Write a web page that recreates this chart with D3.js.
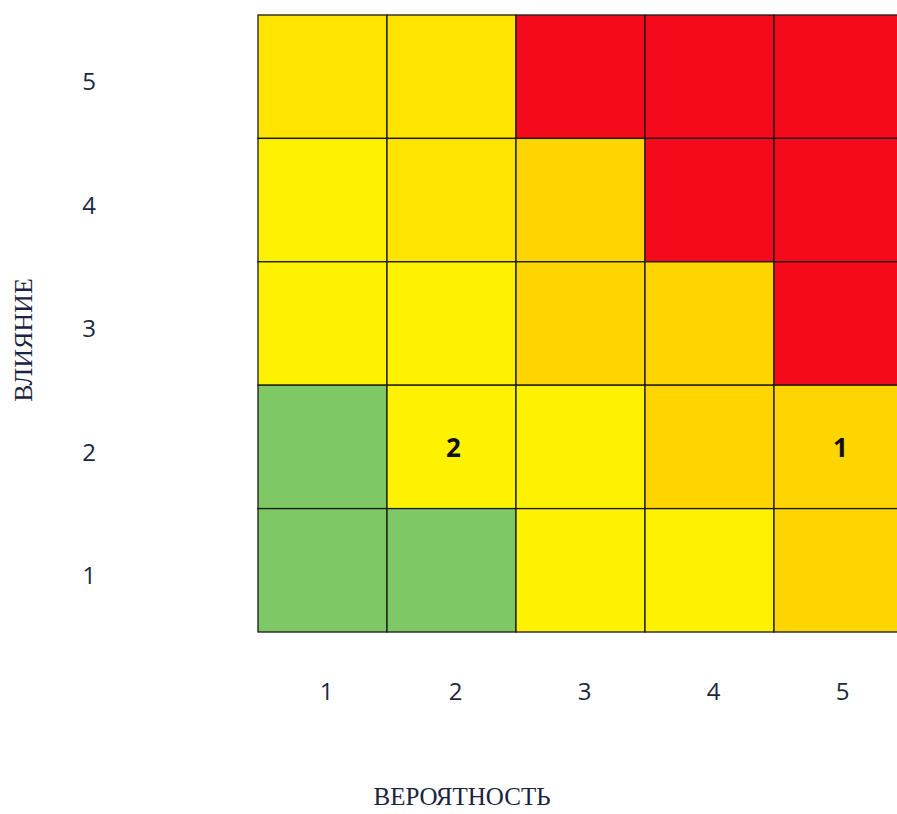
<!DOCTYPE html>
<html>
<head>
<meta charset="utf-8">
<script src="https://cdn.jsdelivr.net/npm/d3@7"></script>
<style>
  body { margin: 0; background: #fff; }
  svg { display: block; }
</style>
</head>
<body>
<svg width="897" height="814"></svg>
<script>
// шкалы матрицы рисков
let probability = [1, 2, 3, 4, 5];
let impact = [5, 4, 3, 2, 1];

// уровень риска по строкам (сверху вниз), столбцы = вероятность 1..5
let levels = [
  ["gold", "gold", "red", "red", "red"],
  ["yellow", "gold", "amber", "red", "red"],
  ["yellow", "yellow", "amber", "amber", "red"],
  ["green", "yellow", "yellow", "amber", "amber"],
  ["green", "green", "yellow", "yellow", "amber"]
];

// отмеченные риски: [вероятность, влияние, номер]
let marks = [[2, 2, "2"], [5, 2, "1"]];

let palette = {
  green: "#7ec866",
  yellow: "#fff200",
  gold: "#ffe400",
  amber: "#ffd500",
  red: "#f50a1c"
};

let svg = d3.select("svg");

let x = d3.scaleBand().domain(probability).range([258, 903]);
let y = d3.scaleBand().domain(impact).range([15, 632]);

let cells = [];
impact.forEach((imp, r) => {
  probability.forEach((p, c) => {
    cells.push({ p: p, imp: imp, level: levels[r][c] });
  });
});

svg.append("g")
  .selectAll("rect")
  .data(cells)
  .join("rect")
  .attr("x", d => x(d.p))
  .attr("y", d => y(d.imp))
  .attr("width", x.bandwidth())
  .attr("height", y.bandwidth())
  .attr("fill", d => palette[d.level])
  .attr("stroke", "#1a1a1a")
  .attr("stroke-width", 1.3);

svg.append("g")
  .selectAll("text")
  .data(marks)
  .join("text")
  .attr("x", d => x(d[0]) + x.bandwidth() / 2 + 2)
  .attr("y", d => y(d[1]) + y.bandwidth() / 2 + 1)
  .attr("dy", "0.36em")
  .attr("text-anchor", "middle")
  .attr("font-family", "Liberation Sans Narrow, Open Sans, sans-serif")
  .attr("font-weight", "bold")
  .attr("font-size", 26)
  .attr("fill", "#111")
  .text(d => d[2]);

// подписи осей
let xAxis = svg.append("g")
  .attr("transform", "translate(4,675)")
  .call(d3.axisBottom(x).tickSize(0).tickPadding(8));
xAxis.select(".domain").remove();
xAxis.selectAll("text")
  .attr("font-family", "Open Sans, sans-serif")
  .attr("font-size", 24)
  .attr("fill", "#1e2740");

let yAxis = svg.append("g")
  .attr("transform", "translate(96,6)")
  .call(d3.axisLeft(y).tickSize(0).tickPadding(0));
yAxis.select(".domain").remove();
yAxis.selectAll("text")
  .attr("font-family", "Open Sans, sans-serif")
  .attr("font-size", 24)
  .attr("fill", "#1e2740");

svg.append("text")
  .attr("x", 462)
  .attr("y", 805)
  .attr("text-anchor", "middle")
  .attr("font-family", "Liberation Serif, serif")
  .attr("font-size", 25)
  .attr("fill", "#1a2340")
  .text("ВЕРОЯТНОСТЬ");

svg.append("text")
  .attr("transform", "translate(32,340) rotate(-90)")
  .attr("text-anchor", "middle")
  .attr("font-family", "Liberation Serif, serif")
  .attr("font-size", 26)
  .attr("fill", "#1a2340")
  .text("ВЛИЯНИЕ");
</script>
</body>
</html>
